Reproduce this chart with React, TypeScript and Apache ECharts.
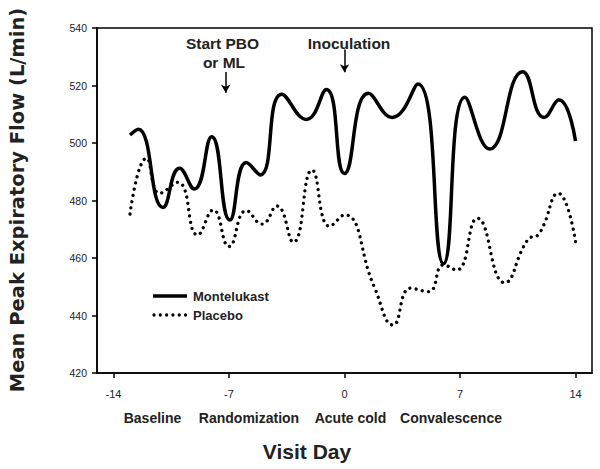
import React, { useEffect, useRef } from "react";
import * as echarts from "echarts";

const montX = [-13, -12.5, -11, -10, -9.1, -8.05, -6.95, -5.95, -5.1, -3.8, -2.3, -1.1, 0, 1.45, 2.9, 4.45, 6.0, 7.3, 8.8, 10.8, 12.1, 13.0, 14.0];
const montY = [502.8, 504.8, 477.6, 491.2, 484, 502.2, 473.2, 493.2, 488.9, 517, 508.2, 518.6, 489.4, 517.3, 508.9, 520.5, 458, 515.9, 497.9, 524.8, 508.9, 515, 500.7];

const placX = [-13, -12, -11.2, -10.1, -8.9, -7.95, -7.0, -5.95, -5.0, -4.1, -3.1, -1.97, -0.9, 0, 1.8, 2.95, 4.0, 5.1, 6.0, 6.8, 8.05, 9.7, 11.1, 11.8, 12.95, 14.0];
const placY = [475.3, 494.7, 482.5, 486.3, 468, 476.7, 464, 476.5, 471.8, 478.1, 465.5, 490.6, 471, 475, 450, 436.7, 449.5, 448.3, 457.6, 455.8, 473.8, 451.4, 466.3, 468.5, 482.5, 465.7];

const xTicks = [-14, -7, 0, 7, 14];
const phaseLabels = ["Baseline", "Randomization", "Acute cold", "Convalescence"];
const phaseCenters = [152.5, 249, 350.5, 451];
const seriesNames = ["Montelukast", "Placebo"];

const FONT = "'Liberation Sans', Arial, sans-serif";
const TXT = "#222";
const DOT = [0.01, 6.3];

export default function App() {
  const ref = useRef<HTMLDivElement>(null);
  useEffect(() => {
    if (!ref.current) return;
    document.body.style.margin = "0";
    const chart = echarts.init(ref.current, undefined, { renderer: "svg" });
    const mont = montX.map((x, i) => [x, montY[i]]);
    const plac = placX.map((x, i) => [x, placY[i]]);
    chart.setOption({
      animation: false,
      backgroundColor: "#fff",
      grid: { left: 97, top: 28, right: 8, bottom: 96, show: true, borderColor: "#000", borderWidth: 1.5, backgroundColor: "transparent" },
      xAxis: {
        type: "value",
        min: -15,
        max: 15,
        splitLine: { show: false },
        axisLine: { onZero: false, lineStyle: { color: "#000", width: 1.5 } },
        axisTick: { show: true, length: 5, customValues: xTicks, lineStyle: { color: "#000", width: 1.5 } },
        axisLabel: { customValues: xTicks, margin: 15, color: TXT, fontSize: 11, fontFamily: FONT },
      },
      yAxis: {
        type: "value",
        min: 420,
        max: 540,
        interval: 20,
        splitLine: { show: false },
        axisLine: { show: true, onZero: false, lineStyle: { color: "#000", width: 1.5 } },
        axisTick: { show: true, length: 5, lineStyle: { color: "#000", width: 1.5 } },
        axisLabel: { margin: 10, color: TXT, fontSize: 10.5, fontFamily: FONT },
      },
      series: [
        {
          name: seriesNames[0],
          type: "line",
          data: mont,
          smooth: 0.5,
          showSymbol: false,
          symbol: "none",
          lineStyle: { color: "#000", width: 3.5 },
          itemStyle: { color: "#000" },
          markLine: {
            silent: true,
            symbol: ["none", "arrow"],
            symbolSize: [7, 8],
            label: { show: false },
            lineStyle: { color: "#000", width: 1.5, type: "solid" },
            data: [
              [{ coord: [-7.2, 524.7] }, { coord: [-7.2, 517.5] }],
              [{ coord: [0, 532.5] }, { coord: [0, 524.6] }],
            ],
          },
        },
        {
          name: seriesNames[1],
          type: "line",
          data: plac,
          smooth: 0.5,
          showSymbol: false,
          symbol: "none",
          lineStyle: { color: "#000", width: 3.3, type: DOT, cap: "round" },
          itemStyle: { color: "#000" },
        },
      ],
      graphic: [
        { type: "line", shape: { x1: 153, y1: 296, x2: 187, y2: 296 }, style: { stroke: "#000", lineWidth: 3.5 } },
        { type: "line", shape: { x1: 154, y1: 315, x2: 187, y2: 315 }, style: { stroke: "#000", lineWidth: 3.3, lineDash: DOT, lineCap: "round" } },
        { type: "text", x: 193, y: 296, style: { text: seriesNames[0], align: "left", verticalAlign: "middle", font: `bold 13px ${FONT}`, fill: TXT } },
        { type: "text", x: 193, y: 315, style: { text: seriesNames[1], align: "left", verticalAlign: "middle", font: `bold 13px ${FONT}`, fill: TXT } },
        { type: "text", x: 222.5, y: 43, style: { text: "Start PBO", align: "center", verticalAlign: "middle", font: `bold 15.5px ${FONT}`, fill: TXT } },
        { type: "text", x: 224, y: 62, style: { text: "or ML", align: "center", verticalAlign: "middle", font: `bold 15.5px ${FONT}`, fill: TXT } },
        { type: "text", x: 349, y: 43, style: { text: "Inoculation", align: "center", verticalAlign: "middle", font: `bold 15.5px ${FONT}`, fill: TXT } },
        ...phaseLabels.map((t, i) => ({
          type: "text",
          x: phaseCenters[i],
          y: 418,
          style: { text: t, align: "center", verticalAlign: "middle", font: `bold 14px ${FONT}`, fill: TXT },
        })),
        { type: "text", x: 307, y: 451, style: { text: "Visit Day", align: "center", verticalAlign: "middle", font: `bold 21px ${FONT}`, fill: TXT } },
        {
          type: "text",
          x: 17,
          y: 200,
          rotation: Math.PI / 2,
          style: { text: "Mean Peak Expiratory Flow (L/min)", align: "center", verticalAlign: "middle", font: `bold 19.5px 'DejaVu Sans', sans-serif`, fill: TXT },
        },
      ],
    });
    return () => chart.dispose();
  }, []);
  return <div ref={ref} style={{ width: 600, height: 469 }} />;
}
